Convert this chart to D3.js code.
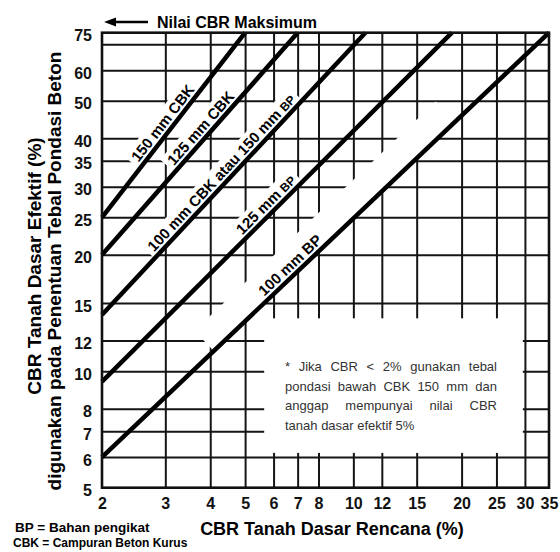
<!DOCTYPE html>
<html>
<head>
<meta charset="utf-8">
<script src="https://cdn.jsdelivr.net/npm/d3@7"></script>
<style>
  body { margin: 0; background: #fff; }
  svg { display: block; font-family: "Liberation Sans", Arial, sans-serif; }
</style>
</head>
<body>
<script>
// axis ticks (log-log chart)
const xTicks = [2, 3, 4, 5, 6, 7, 8, 10, 12, 15, 20, 25, 30, 35]
const yTicks = [5, 6, 7, 8, 10, 12, 15, 20, 25, 30, 35, 40, 50, 60, 75]
const yGridExtra = [70]

// design lines: straight on log-log, from (startCBR, startEff) to (endCBR, endEff)
const lineLabels = ["150 mm CBK", "125 mm CBK", "100 mm CBK atau 150 mm BP", "125 mm BP", "100 mm BP"]
const startCBR = [2, 2, 2, 2, 2]
const startEff = [25, 20, 14, 9.4, 6]
const endCBR = [5, 7, 10.8, 18.8, 35]
const endEff = [75, 75, 75, 75, 75]

const noteLines = [
  "* Jika CBR < 2% gunakan tebal",
  "pondasi bawah CBK 150 mm dan",
  "anggap mempunyai nilai CBR",
  "tanah dasar efektif 5%"
]

const W = 560, H = 552
const margin = {top: 32.7, left: 102, bottom: 64.3, right: 11}
const plotW = W - margin.left - margin.right
const plotH = H - margin.top - margin.bottom

const x = d3.scaleLog().domain([2, 35]).range([margin.left, W - margin.right])
const y = d3.scaleLog().domain([5, 75]).range([H - margin.bottom, margin.top])

const svg = d3.select('body').append('svg')
  .attr('width', W).attr('height', H)

// ---- grid ----
const gx = svg.append('g')
  .attr('transform', `translate(0, ${H - margin.bottom})`)
  .call(d3.axisBottom(x).tickValues(xTicks.slice(1, -1)).tickSize(-plotH).tickFormat(''))
gx.select('.domain').remove()

const gy = svg.append('g')
  .attr('transform', `translate(${margin.left}, 0)`)
  .call(d3.axisLeft(y).tickValues(yTicks.slice(1, -1).concat(yGridExtra)).tickSize(-plotW).tickFormat(''))
gy.select('.domain').remove()

svg.selectAll('.tick line').attr('stroke', '#151515').attr('stroke-width', 2)

// ---- white gaps in grid ----
const masks = svg.append('g')
const labels = svg.append('g')

// note area
masks.append('rect')
  .attr('x', x(5.65)).attr('y', y(13.7))
  .attr('width', x(29.6) - x(5.65)).attr('height', y(6.15) - y(13.7))
  .attr('fill', '#fff')

const geom = lineLabels.map((name, i) => {
  const p1 = [x(startCBR[i]), y(startEff[i])]
  const p2 = [x(endCBR[i]), y(endEff[i])]
  const dx = p2[0] - p1[0], dy = p2[1] - p1[1]
  const len = Math.hypot(dx, dy)
  const u = [dx / len, dy / len]
  const n = [u[1], -u[0]]
  return {p1, p2, len, u, n, angle: Math.atan2(dy, dx) * 180 / Math.PI}
})

// wide blank strip along the 100 mm BP line
{
  const g = geom[4], t0 = 0.25, t1 = 0.79
  masks.append('rect')
    .attr('transform', `translate(${g.p1[0] + g.u[0] * g.len * t0}, ${g.p1[1] + g.u[1] * g.len * t0}) rotate(${g.angle})`)
    .attr('x', 0).attr('y', -28).attr('width', (t1 - t0) * g.len).attr('height', 28)
    .attr('fill', '#fff')
}

const labelAt = [0.28, 0.385, 0.21, 0.41, 0.37]
const gap = 4.5
lineLabels.forEach((name, i) => {
  const g = geom[i]
  const t = labelAt[i]
  const px = g.p1[0] + g.u[0] * g.len * t + g.n[0] * gap
  const py = g.p1[1] + g.u[1] * g.len * t + g.n[1] * gap
  const grp = labels.append('g').attr('transform', `translate(${px}, ${py}) rotate(${g.angle})`)
  const txt = grp.append('text')
    .attr('font-size', 15).attr('font-weight', 'bold').attr('fill', '#000')
  if (name.endsWith(' BP') && (i === 2 || i === 3)) {
    txt.append('tspan').text(name.slice(0, -2) + (i === 3 ? ' ' : ''))
    txt.append('tspan').attr('font-size', 12).text('BP')
  } else {
    txt.text(name)
  }
  const tl = txt.node().getComputedTextLength()
  const mg = masks.append('g').attr('transform', `translate(${px}, ${py}) rotate(${g.angle})`)
  mg.append('rect')
    .attr('x', -4).attr('y', -15).attr('width', tl + 8).attr('height', 15 + gap)
    .attr('fill', '#fff')
})

// ---- design lines ----
const line = d3.line().x(d => x(d[0])).y(d => y(d[1]))
svg.insert('g', () => labels.node())
  .selectAll('path')
  .data(lineLabels.map((n, i) => [[startCBR[i], startEff[i]], [endCBR[i], endEff[i]]]))
  .join('path')
  .attr('d', line)
  .attr('fill', 'none')
  .attr('stroke', '#000')
  .attr('stroke-width', 4.5)

// ---- frame ----
svg.append('rect')
  .attr('x', x(2)).attr('y', y(75))
  .attr('width', x(35) - x(2)).attr('height', y(5) - y(75))
  .attr('fill', 'none').attr('stroke', '#111').attr('stroke-width', 2.6)

// ---- tick labels ----
const yl = svg.append('g')
  .attr('transform', `translate(${margin.left}, 0)`)
  .call(d3.axisLeft(y).tickValues(yTicks).tickSize(0).tickPadding(10).tickFormat(d3.format('d')))
yl.select('.domain').remove()
const xl = svg.append('g')
  .attr('transform', `translate(0, ${H - margin.bottom})`)
  .call(d3.axisBottom(x).tickValues(xTicks).tickSize(0).tickPadding(10).tickFormat(d3.format('d')))
xl.select('.domain').remove()
svg.selectAll('g.tick text')
  .attr('font-family', '"Liberation Sans", Arial, sans-serif')
  .attr('font-size', 16).attr('font-weight', 'bold').attr('fill', '#111')
yl.selectAll('text').attr('dy', '0.5em')

// ---- axis titles ----
svg.append('text')
  .attr('x', 332).attr('y', 535)
  .attr('text-anchor', 'middle').attr('font-size', 18).attr('font-weight', 'bold')
  .text('CBR Tanah Dasar Rencana (%)')
svg.append('text')
  .attr('transform', 'translate(41, 266) rotate(-90)')
  .attr('text-anchor', 'middle').attr('font-size', 19).attr('font-weight', 'bold')
  .text('CBR Tanah Dasar Efektif (%)')
svg.append('text')
  .attr('transform', 'translate(61, 271) rotate(-90)')
  .attr('text-anchor', 'middle').attr('font-size', 19).attr('font-weight', 'bold')
  .text('digunakan pada Penentuan Tebal Pondasi Beton')

// ---- top annotation ----
svg.append('line')
  .attr('x1', 148).attr('y1', 22).attr('x2', 112).attr('y2', 22)
  .attr('stroke', '#000').attr('stroke-width', 2.5)
svg.append('path')
  .attr('d', 'M104,22 L116,17.5 L116,26.5 Z').attr('fill', '#000')
svg.append('text')
  .attr('x', 157).attr('y', 27.5)
  .attr('font-size', 16).attr('font-weight', 'bold')
  .text('Nilai CBR Maksimum')

// ---- legend ----
svg.append('text').attr('x', 15).attr('y', 532)
  .attr('font-size', 13.5).attr('font-weight', 'bold').text('BP = Bahan pengikat')
svg.append('text').attr('x', 13).attr('y', 547)
  .attr('font-size', 12).attr('font-weight', 'bold').text('CBK = Campuran Beton Kurus')

// ---- note (justified) ----
const noteX = 285, noteR = 497, noteY = 371, noteStep = 19.7
noteLines.forEach((ln, i) => {
  const words = ln.split(' ')
  const g = svg.append('g').attr('transform', `translate(${noteX}, ${noteY + i * noteStep})`)
  const ws = words.map(w => g.append('text').attr('font-size', 13).attr('fill', '#333').text(w))
  const widths = ws.map(t => t.node().getComputedTextLength())
  const total = d3.sum(widths)
  const last = i === noteLines.length - 1
  const sp = last ? 3.6 : (noteR - noteX - total) / (words.length - 1)
  let cx = 0
  ws.forEach((t, k) => { t.attr('x', cx); cx += widths[k] + sp })
})
</script>
</body>
</html>
